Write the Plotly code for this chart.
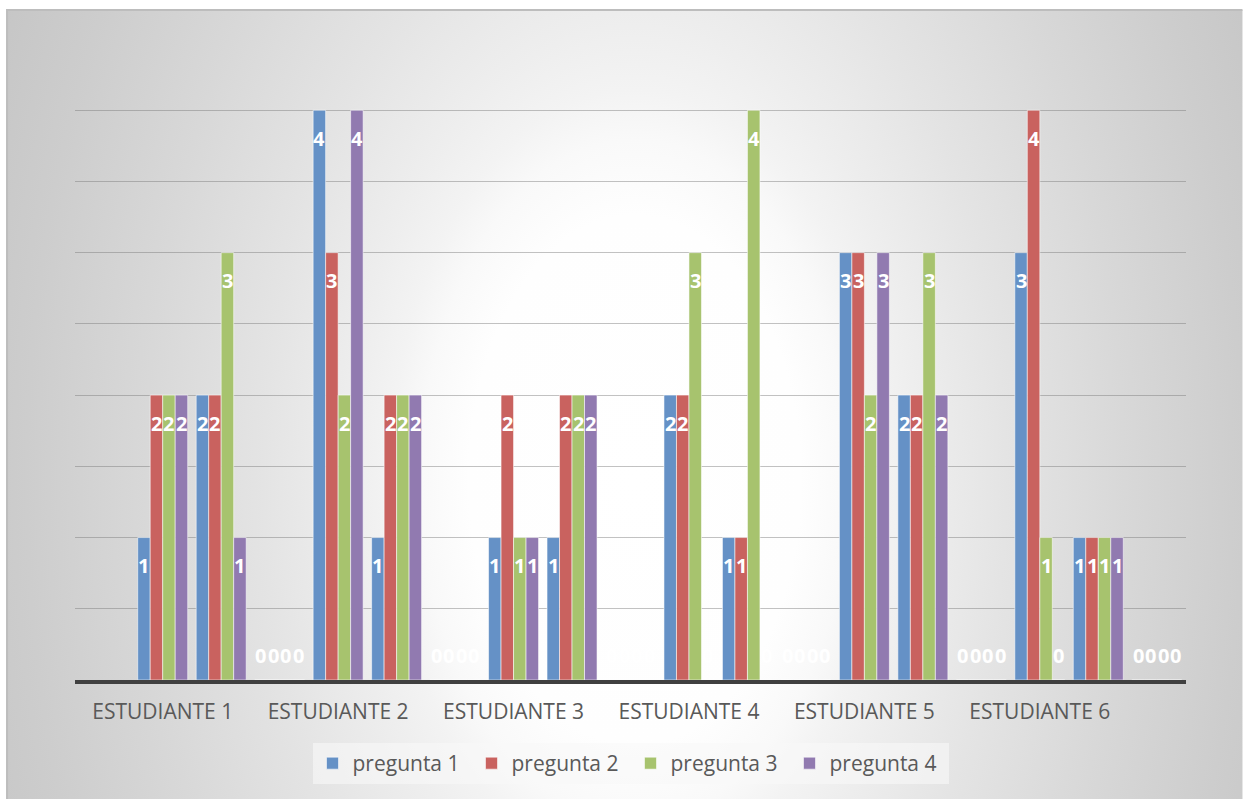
import base64
import plotly.graph_objects as go

# ---------------- data ----------------
students = ["ESTUDIANTE 1", "ESTUDIANTE 2", "ESTUDIANTE 3",
            "ESTUDIANTE 4", "ESTUDIANTE 5", "ESTUDIANTE 6"]
# data rows (Excel rows); the student label sits on these rows
student_rows = [1, 4, 7, 10, 13, 16]
rows = list(range(19))

series_names = ["pregunta 1", "pregunta 2", "pregunta 3", "pregunta 4"]
pregunta_1 = [None, 1, 2, 0, 4, 1, 0, 1, 1, 0, 2, 1, 0, 3, 2, 0, 3, 1, 0]
pregunta_2 = [None, 2, 2, 0, 3, 2, 0, 2, 2, 0, 2, 1, 0, 3, 2, 0, 4, 1, 0]
pregunta_3 = [None, 2, 3, 0, 2, 2, 0, 1, 2, 0, 3, 4, 0, 2, 3, 0, 1, 1, 0]
pregunta_4 = [None, 2, 1, 0, 4, 2, 0, 1, 2, 0, 0, 0, 0, 3, 2, 0, 0, 1, 0]
series_values = [pregunta_1, pregunta_2, pregunta_3, pregunta_4]

colors = ["#6591C6", "#C9625F", "#A7C36E", "#917AB0"]

# ---------------- layout constants ----------------
W, H = 1243, 799
ML, MR, MT, MB = 75, 56.5, 39, 119
PW, PH = W - ML - MR, H - MT - MB
BARGAP = 0.145
FONT = "Open Sans, Noto Sans, sans-serif"

fig = go.Figure()
for name, vals, col in zip(series_names, series_values, colors):
    fig.add_trace(go.Bar(
        x=rows, y=vals, name=name,
        marker=dict(color=col, line=dict(color="rgba(255,255,255,0.55)", width=1)),
        hoverinfo="skip",
    ))

# data labels (Excel "inside end")
n = len(series_values)
w = (1 - BARGAP) / n
annotations = []
for k, vals in enumerate(series_values):
    off = -(1 - BARGAP) / 2 + w * (k + 0.5)
    for r, v in zip(rows, vals):
        if v is None:
            continue
        annotations.append(dict(
            x=r + off, y=v, xref="x", yref="y", text=str(v), showarrow=False,
            yshift=-28 if v > 0 else 25, yanchor="middle", xanchor="center",
            font=dict(family=FONT, size=20, color="white", weight="bold"),
        ))

# elliptical radial gradient background with chart border
svg = f'''<svg xmlns="http://www.w3.org/2000/svg" width="{W}" height="{H}" viewBox="0 0 {W} {H}">
<defs><radialGradient id="g" gradientUnits="userSpaceOnUse" cx="0" cy="0" r="1"
 gradientTransform="translate(635 480) scale(790 1260)">
<stop offset="0" stop-color="#ffffff"/>
<stop offset="0.21" stop-color="#fefefe"/>
<stop offset="0.27" stop-color="#f9f9f9"/>
<stop offset="0.31" stop-color="#f3f3f3"/>
<stop offset="0.36" stop-color="#eeeeee"/>
<stop offset="0.47" stop-color="#e4e4e4"/>
<stop offset="0.62" stop-color="#d8d8d8"/>
<stop offset="0.77" stop-color="#cdcdcd"/>
<stop offset="0.90" stop-color="#c5c5c5"/>
<stop offset="1" stop-color="#c0c0c0"/>
</radialGradient></defs>
<rect x="0" y="0" width="{W}" height="{H}" fill="#ffffff"/>
<rect x="7" y="10" width="{W + 20}" height="{H + 20}" fill="url(#g)" stroke="#bdbdbd" stroke-width="2"/>
</svg>'''
src = "data:image/svg+xml;base64," + base64.b64encode(svg.encode()).decode()

fig.update_layout(
    width=W, height=H, autosize=False,
    margin=dict(l=ML, r=MR, t=MT, b=MB, pad=0),
    paper_bgcolor="white", plot_bgcolor="rgba(0,0,0,0)",
    barmode="group", bargap=BARGAP, bargroupgap=0,
    font=dict(family=FONT, color="#595959"),
    images=[dict(source=src, xref="paper", yref="paper",
                 x=-ML / PW, y=1 + MT / PH, sizex=W / PW, sizey=H / PH,
                 xanchor="left", yanchor="top", sizing="stretch", layer="below")],
    xaxis=dict(range=[-0.5, len(rows) - 0.5], tickmode="array",
               tickvals=student_rows, ticktext=students,
               tickfont=dict(size=21, color="#595959"), ticks="",
               showgrid=False, zeroline=False, showline=True,
               linecolor="#404040", linewidth=3.5, ticklabelstandoff=10),
    yaxis=dict(range=[0, 4.5], dtick=0.5, showticklabels=False, ticks="",
               showgrid=True, gridcolor="rgba(120,120,120,0.45)", gridwidth=1.2,
               zeroline=False, showline=False),
    legend=dict(orientation="h", x=0.5, xanchor="center", y=-63 / PH, yanchor="top",
                bgcolor="rgba(248,248,248,0.6)", entrywidth=114, entrywidthmode="pixels",
                font=dict(size=21, color="#595959"), itemclick=False),
    annotations=annotations,
    showlegend=True,
)

fig.write_html("out.html", config={"displayModeBar": False},
               post_script="document.body.style.margin='0';")
